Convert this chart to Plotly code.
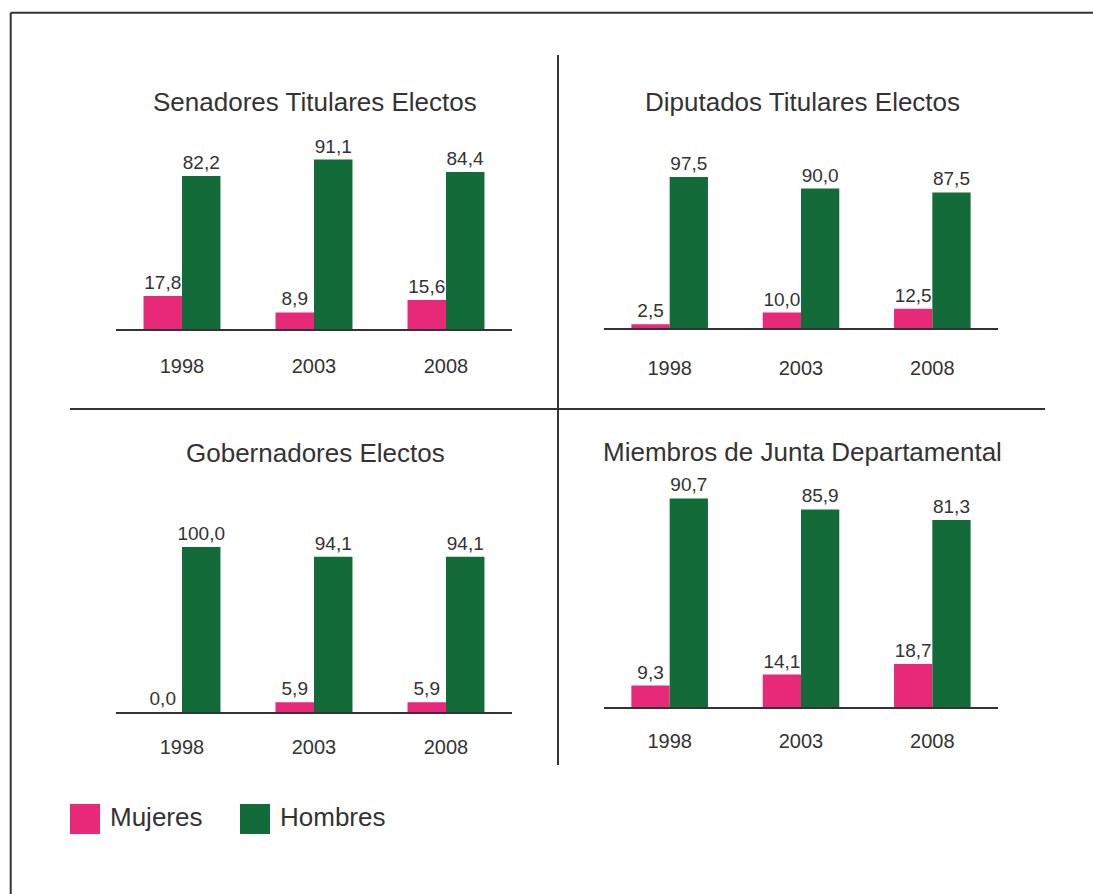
import plotly.graph_objects as go

# ---------------- data ----------------
years = ["1998", "2003", "2008"]
panel_titles = ["Senadores Titulares Electos", "Diputados Titulares Electos",
                "Gobernadores Electos", "Miembros de Junta Departamental"]
mujeres = [
    [17.8, 8.9, 15.6],
    [2.5, 10.0, 12.5],
    [0.0, 5.9, 5.9],
    [9.3, 14.1, 18.7],
]
hombres = [
    [82.2, 91.1, 84.4],
    [97.5, 90.0, 87.5],
    [100.0, 94.1, 94.1],
    [90.7, 85.9, 81.3],
]
series_names = ["Mujeres", "Hombres"]

# ---------------- style ----------------
W, H = 1093, 894
PINK = "#E8297A"
GREEN = "#146B3A"
TXT = "#333333"
LINE = "#333333"
FONT = "Liberation Sans, Arial, Helvetica, sans-serif"

def fx(px):
    return px / W

def fy(py):
    return 1 - py / H

# panel geometry in pixels: (x_left, x_right, baseline_y, px_per_unit, ymax, tick_standoff, title_x, title_y)
panels = [
    (116, 512, 329, 1.86, 110, 18, 314.5, 102),
    (604, 998, 328, 1.55, 110, 21, 802, 102),
    (116, 512, 712, 1.65, 110, 16, 315, 453),
    (604, 998, 707, 2.30, 100, 15, 802, 452),
]

def fmt(v):
    return f"{v:.1f}".replace(".", ",")

fig = go.Figure()
layout_axes = {}
annotations = []
for i, (xl, xr, base, scale, ymax, standoff, tx, ty) in enumerate(panels):
    n = "" if i == 0 else str(i + 1)
    xa, ya = "x" + n, "y" + n
    top = base - ymax * scale
    for vals, name, col in ((mujeres[i], series_names[0], PINK), (hombres[i], series_names[1], GREEN)):
        fig.add_trace(go.Bar(
            x=years, y=vals, name=name, xaxis=xa, yaxis=ya,
            marker=dict(color=col, line=dict(width=0)),
            text=[fmt(v) for v in vals], textposition="outside",
            outsidetextfont=dict(family=FONT, size=19, color=TXT),
            constraintext="none",
            cliponaxis=False, showlegend=False,
        ))
    layout_axes["xaxis" + n] = dict(
        domain=[fx(xl), fx(xr)], anchor=ya, type="category",
        showline=True, linecolor=LINE, linewidth=1.5, ticks="",
        showgrid=False, zeroline=False, ticklabelstandoff=standoff,
        tickfont=dict(family=FONT, size=20, color=TXT), fixedrange=True,
    )
    layout_axes["yaxis" + n] = dict(
        domain=[fy(base), fy(top)], anchor=xa, range=[0, ymax],
        visible=False, fixedrange=True,
    )
    annotations.append(dict(
        text=panel_titles[i], xref="paper", yref="paper", x=fx(tx), y=fy(ty),
        xanchor="center", yanchor="middle", showarrow=False,
        font=dict(family=FONT, size=26, color=TXT),
    ))

# legend (manual, large swatches)
legend_items = [(70, 108, PINK, series_names[0]), (240, 278, GREEN, series_names[1])]
shapes = []
for sx, tx, col, name in legend_items:
    shapes.append(dict(type="rect", xref="paper", yref="paper",
                       x0=fx(sx), x1=fx(sx + 30), y0=fy(834), y1=fy(804),
                       fillcolor=col, line=dict(width=0)))
    annotations.append(dict(text=name, xref="paper", yref="paper", x=fx(tx), y=fy(817),
                            xanchor="left", yanchor="middle", showarrow=False,
                            font=dict(family=FONT, size=26, color=TXT)))

# frame and dividers
for x0, y0, x1, y1 in [(10.7, 12.7, 10.7, 894), (10.7, 12.7, 1093, 12.7),
                       (558, 55, 558, 765), (70, 409, 1045, 409)]:
    shapes.append(dict(type="line", xref="paper", yref="paper",
                       x0=fx(x0), y0=fy(y0), x1=fx(x1), y1=fy(y1),
                       line=dict(color=LINE, width=2)))

fig.update_layout(
    width=W, height=H, margin=dict(l=0, r=0, t=0, b=0),
    paper_bgcolor="white", plot_bgcolor="white",
    barmode="group", bargap=0.417, bargroupgap=0,
    annotations=annotations, shapes=shapes, showlegend=False,
    font=dict(family=FONT, color=TXT),
    **layout_axes,
)

fig.write_html(
    "out.html",
    config={"displayModeBar": False},
    post_script="document.body.style.margin='0';document.body.style.overflow='hidden';",
)
